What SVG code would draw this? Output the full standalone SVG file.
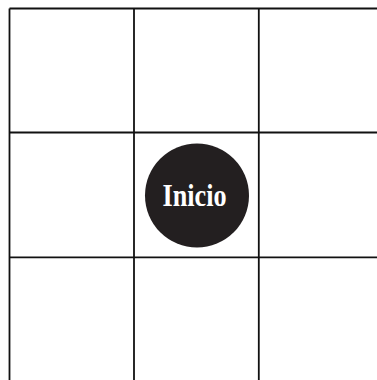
<svg xmlns="http://www.w3.org/2000/svg" width="377" height="380" viewBox="0 0 377 380">
<style>
.g{stroke:#111;stroke-width:1.8;fill:none}
.t{font-family:"Liberation Serif","Times New Roman",serif;font-weight:bold;fill:#fff}
</style>
<rect width="377" height="380" fill="#fff"/>
<g id="grid" class="g">
<line x1="9.5" y1="8.5" x2="9.5" y2="380"/>
<line x1="134" y1="8.5" x2="134" y2="380"/>
<line x1="258.8" y1="8.5" x2="258.8" y2="380"/>
<line x1="9.5" y1="8.5" x2="377" y2="8.5"/>
<line x1="9.5" y1="132.5" x2="377" y2="132.5"/>
<line x1="9.5" y1="257.3" x2="377" y2="257.3"/>
</g>
<g id="inicio">
<circle cx="197" cy="195.5" r="52" fill="#231f20"/>
<text class="t" x="194.5" y="206" font-size="31" text-anchor="middle" textLength="64" lengthAdjust="spacingAndGlyphs">Inicio</text>
</g>
</svg>
